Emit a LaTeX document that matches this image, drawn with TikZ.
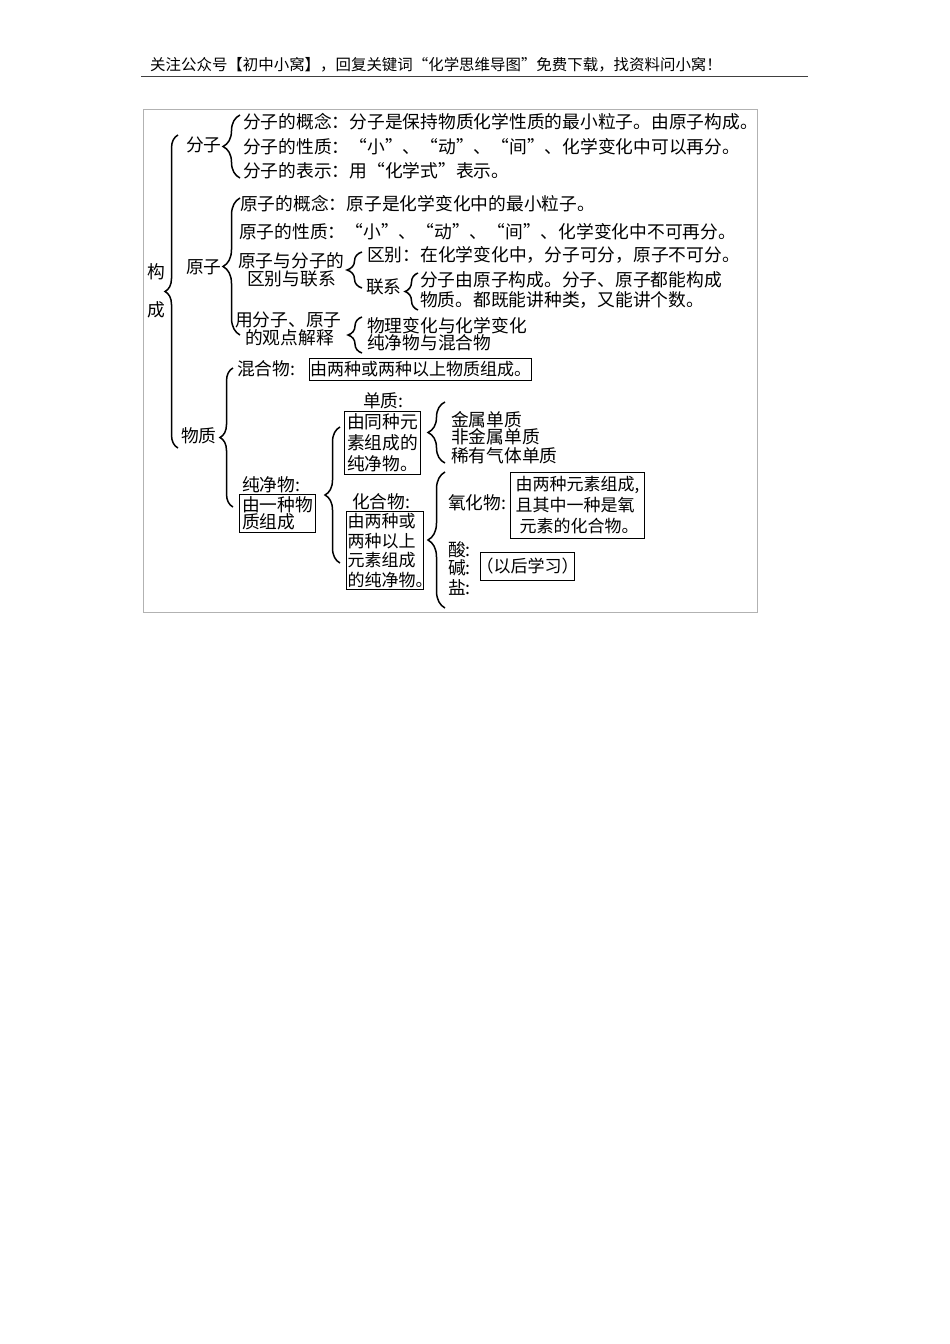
\documentclass[tikz,border=0pt]{standalone}
\usepackage{fontspec}
\setmainfont{Noto Sans CJK SC}
\usetikzlibrary{decorations.pathreplacing}
\newcommand{\zihao}[1]{\fontsize{17.75}{#1}\selectfont}
\newcommand{\xiaohao}[1]{\fontsize{17}{#1}\selectfont}
\newcommand{\yin}[1]{\makebox[1em][c]{#1}}
\tikzset{
  wenzi/.style={inner sep=0pt,anchor=west,align=left,font=\zihao{18}},
  kuang/.style={draw=black,line width=1pt,inner sep=0pt,anchor=north west,align=left},
  kuohao/.style={draw=black,line width=1.5pt,decorate,decoration={brace,amplitude=#1}},
}
\begin{document}
\begin{tikzpicture}[x=1pt,y=-1pt]
    \useasboundingbox (0,0) rectangle (950,1344);
    % page head and frame
    \node [inner sep=0pt,anchor=west,font=\fontsize{15.45}{18}\selectfont] (head) at (150,65)
        {关注公众号【初中小窝】，回复关键词\yin{“}化学思维导图\yin{”}免费下载，找资料问小窝！};
    \coordinate (headl) at (141,76.5);
    \coordinate (headr) at (808,76.5);
    \draw [line width=1pt,black!75] (headl) -- (headr);
    \draw [line width=0.8pt,black!30] (143.5,109.5) rectangle (757.5,612);
    % first level
    \node [wenzi] (gou) at (147,272) {构};
    \node [wenzi] (cheng) at (147,310) {成};
    \node [wenzi] (fenzi) at (186,145) {分子};
    \node [wenzi] (yuanzi) at (186,267) {原子};
    \node [wenzi] (wuzhi) at (181,436) {物质};
    % molecule
    \node [wenzi] (fz1) at (243,122) {分子的概念：分子是保持物质化学性质的最小粒子。由原子构成。};
    \node [wenzi] (fz2) at (243,147) {分子的性质：\yin{“}小\yin{”}、\yin{“}动\yin{”}、\yin{“}间\yin{”}、化学变化中可以再分。};
    \node [wenzi] (fz3) at (243,171) {分子的表示：用\yin{“}化学式\yin{”}表示。};
    % atom
    \node [wenzi] (yz1) at (240,204) {原子的概念：原子是化学变化中的最小粒子。};
    \node [wenzi] (yz2) at (239,232) {原子的性质：\yin{“}小\yin{”}、\yin{“}动\yin{”}、\yin{“}间\yin{”}、化学变化中不可再分。};
    \node [wenzi] (yz3) at (238,261) {原子与分子的};
    \node [wenzi] (yz3b) at (247,279) {区别与联系};
    \node [wenzi] (qubie) at (367,255) {区别：在化学变化中，分子可分，原子不可分。};
    \node [wenzi] (lianxi) at (366,287) {联系};
    \node [wenzi] (lx1) at (420,280) {分子由原子构成。分子、原子都能构成};
    \node [wenzi] (lx2) at (420,300) {物质。都既能讲种类，又能讲个数。};
    \node [wenzi] (yz4) at (235,320) {用分子、原子};
    \node [wenzi] (yz4b) at (245,338) {的观点解释};
    \node [wenzi] (js1) at (367,326) {物理变化与化学变化};
    \node [wenzi] (js2) at (367,343) {纯净物与混合物};
    % substance
    \node [wenzi] (hunhe) at (237,369) {混合物:};
    \node [kuang,font=\xiaohao{18},minimum width=222pt,minimum height=22pt] (hunhebox) at (309,358) {由两种或两种以上物质组成。};
    \node [wenzi] (chun) at (242,485) {纯净物:};
    \node [kuang,font=\zihao{16.5},minimum width=76pt,minimum height=38pt] (chunbox) at (239,494) {由一种物\\质组成\hspace{17.75pt}};
    \node [wenzi] (dan) at (363,401) {单质:};
    \node [kuang,font=\zihao{21},minimum width=76pt,minimum height=63pt] (danbox) at (344,411) {由同种元\\素组成的\\纯净物。};
    \node [wenzi] (jinshu) at (451,420) {金属单质};
    \node [wenzi] (feijin) at (451,437) {非金属单质};
    \node [wenzi] (xiyou) at (451,456) {稀有气体单质};
    \node [wenzi] (hua) at (352,502) {化合物:};
    \node [kuang,font=\xiaohao{19.5},minimum width=77pt,minimum height=78pt] (huabox) at (346,511) {由两种或\hspace{7pt}\\两种以上\hspace{7pt}\\元素组成\hspace{7pt}\\的纯净物\makebox[7pt][l]{。}};
    \node [wenzi] (yang) at (448,503) {氧化物:};
    \node [kuang,font=\xiaohao{21},minimum width=134pt,minimum height=66pt] (yangbox) at (510,472) {由两种元素组成,\\且其中一种是氧\\\hspace{4pt}元素的化合物。};
    \node [wenzi] (suan) at (448,550) {酸:};
    \node [wenzi] (jian) at (448,568) {碱:};
    \node [wenzi] (yan) at (448,587) {盐:};
    \node [kuang,font=\xiaohao{18},minimum width=92pt,minimum height=28pt] (houbox) at (480,552) {\hspace{-4pt}（以后学习）\hspace{-4pt}};
    % brace ends
    \coordinate (goub) at (178,448);   \coordinate (gout) at (178,135);
    \coordinate (fzb) at (240,178);    \coordinate (fzt) at (240,115);
    \coordinate (yzb) at (240,335);    \coordinate (yzt) at (240,198);
    \coordinate (qbb) at (362,288);    \coordinate (qbt) at (362,252);
    \coordinate (lxb) at (418,310);    \coordinate (lxt) at (418,273);
    \coordinate (jsb) at (362,353);    \coordinate (jst) at (362,317);
    \coordinate (wzb) at (233,507);    \coordinate (wzt) at (233,368);
    \coordinate (cjb) at (340,563);    \coordinate (cjt) at (340,427);
    \coordinate (dzb) at (445,463);    \coordinate (dzt) at (445,402);
    \coordinate (hhb) at (445,608);    \coordinate (hht) at (445,472);
    % braces
    \draw [kuohao=13pt] (goub) -- (gout);
    \draw [kuohao=17pt] (fzb) -- (fzt);
    \draw [kuohao=17pt] (yzb) -- (yzt);
    \draw [kuohao=15pt] (qbb) -- (qbt);
    \draw [kuohao=13pt] (lxb) -- (lxt);
    \draw [kuohao=14pt] (jsb) -- (jst);
    \draw [kuohao=13pt] (wzb) -- (wzt);
    \draw [kuohao=15pt] (cjb) -- (cjt);
    \draw [kuohao=17pt] (dzb) -- (dzt);
    \draw [kuohao=17pt] (hhb) -- (hht);
\end{tikzpicture}
\end{document}
